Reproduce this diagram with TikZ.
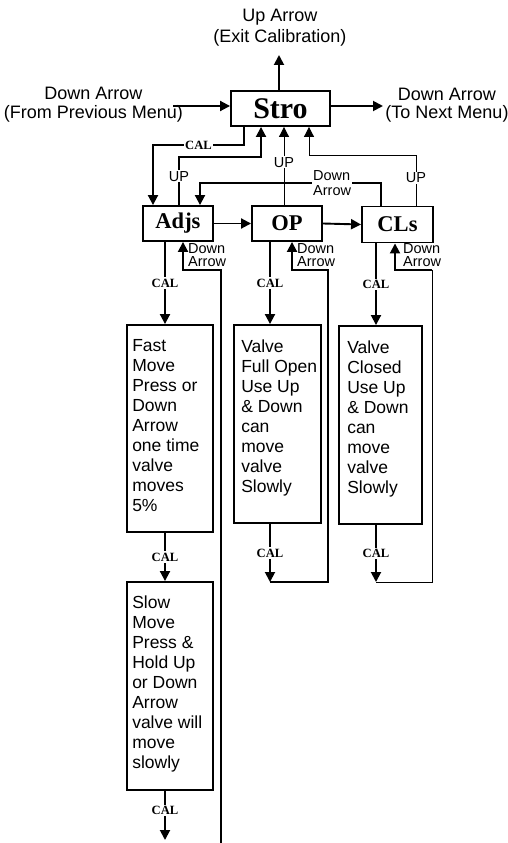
\documentclass[tikz,border=0pt]{standalone}
\usepackage{fontspec}
\setmainfont{Liberation Sans}
\newfontfamily\tnr{Liberation Serif}
\usepackage{tikz}
\usetikzlibrary{arrows.meta}
\tikzset{
  menu/.style={draw,line width=1.9pt,inner sep=0pt,font=\tnr\bfseries\fontsize{22.5}{24}\selectfont},
  txtbox/.style={draw,line width=1.9pt,inner sep=0pt},
  boxtext/.style={font=\fontsize{17.5}{20}\selectfont,align=left,inner sep=0pt,anchor=north west},
  cal/.style={font=\tnr\bfseries\fontsize{12.6}{13}\selectfont,fill=white,inner sep=1.5pt},
  keylbl/.style={font=\fontsize{14.5}{13.5}\selectfont,align=left,inner sep=0pt},
  uplbl/.style={font=\fontsize{14.5}{15}\selectfont,fill=white,inner sep=1pt},
  note/.style={font=\fontsize{18}{21}\selectfont,align=center,inner sep=0pt},
  flow/.style={line width=1.9pt},
  thinflow/.style={line width=1pt},
  arr/.style={flow,-{Triangle[length=10pt,width=10pt]}},
  thinarr/.style={thinflow,-{Triangle[length=10pt,width=10pt]}}
}

\begin{document}
\begin{tikzpicture}[x=1pt,y=-1pt]
  \useasboundingbox (0,0) rectangle (507,843);
  % menus
  \node[menu,minimum width=99pt,minimum height=35pt,font=\tnr\bfseries\fontsize{30}{32}\selectfont] (stro) at (280.5,108.5) {Stro};
  \node[menu,minimum width=70pt,minimum height=35pt] (adjs) at (178,223.5) {Adjs};
  \node[menu,minimum width=70pt,minimum height=35pt] (op) at (287,223.5) {OP};
  \node[menu,minimum width=71pt,minimum height=36pt] (cls) at (397.5,224.5) {CLs};
  % text boxes
  \node[txtbox,minimum width=86pt,minimum height=207pt] (fast) at (170,428.5) {};
  \node[txtbox,minimum width=86pt,minimum height=208pt] (slow) at (170,686) {};
  \node[txtbox,minimum width=87pt,minimum height=198pt] (opbox) at (277.5,424) {};
  \node[txtbox,minimum width=83pt,minimum height=198pt] (clsbox) at (380.5,425) {};
  \node[boxtext] (fasttxt) at ([xshift=6pt,yshift=-15.5pt]fast.north west)
    {Fast\\Move\\Press or\\Down\\Arrow\\one time\\valve\\moves\\5\%};
  \node[boxtext] (slowtxt) at ([xshift=6pt,yshift=-14.5pt]slow.north west)
    {Slow\\Move\\Press \&\\Hold Up\\or Down\\Arrow\\valve will\\move\\slowly};
  \node[boxtext] (optxt) at ([xshift=8pt,yshift=-15.5pt]opbox.north west)
    {Valve\\Full Open\\Use Up\\\& Down\\can\\move\\valve\\Slowly};
  \node[boxtext] (clstxt) at ([xshift=9pt,yshift=-15.5pt]clsbox.north west)
    {Valve\\Closed\\Use Up\\\& Down\\can\\move\\valve\\Slowly};
  % outer labels
  \node[note] (exit) at (280,28) {Up Arrow\\(Exit Calibration)};
  \node[note,font=\fontsize{18}{18.5}\selectfont] (prev) at (93.5,104.5) {Down Arrow\\(From Previous Menu)};
  \node[note,font=\fontsize{18}{18.5}\selectfont] (next) at (447,105) {Down Arrow\\(To Next Menu)};
  % bend points
  \coordinate (exitpt) at (279,55);
  \coordinate (prevpt) at (173,106);
  \coordinate (nextpt) at (383,106);
  \coordinate (calbend1) at (244,145);
  \coordinate (calbend2) at (153,145);
  \coordinate (upl1) at (179,157);
  \coordinate (upl2) at (261,157);
  \coordinate (upm) at (284,162);
  \coordinate (upr1) at (416,155);
  \coordinate (upr2) at (309,155);
  \coordinate (dn1) at (381,183);
  \coordinate (dn2) at (200,183);
  \coordinate (adjsret) at (221,843);
  \coordinate (adjsbend) at (221,270);
  \coordinate (adjsin) at (183,270);
  \coordinate (oploop) at (270,582);
  \coordinate (opret) at (328,582);
  \coordinate (opbend) at (328,270);
  \coordinate (opin) at (292,270);
  \coordinate (clsloop) at (376,582);
  \coordinate (clsret) at (432,582);
  \coordinate (clsbend) at (432,270);
  \coordinate (clsin) at (395,270);
  \coordinate (endpt) at (165,840);
  % around Stro
  \draw[arr] (stro.north -| exitpt) -- (exitpt);
  \draw[arr] (prevpt) -- (prevpt -| stro.west);
  \draw[arr] (nextpt -| stro.east) -- (nextpt);
  \draw[arr] (stro.south -| calbend1) |- node[cal,pos=0.75] (cal0) {CAL} (calbend2) -- (calbend2 |- adjs.north);
  \draw[arr] (adjs.north -| upl1) -- node[uplbl,pos=0.6] (upa) {UP} (upl1) -- (upl2) -- (upl2 |- stro.south);
  \draw[thinarr] (op.north -| upm) -- node[uplbl,pos=0.55] (upb) {UP} (upm |- stro.south);
  \draw[thinarr] (cls.north -| upr1) -- node[uplbl,pos=0.55] (upc) {UP} (upr1) -- (upr2) -- (upr2 |- stro.south);
  \draw[arr] (cls.north -| dn1) -- (dn1) -- node[keylbl,fill=white,inner sep=1pt,font=\fontsize{14.5}{15}\selectfont,pos=0.27] (dnlbl) {Down\\Arrow} (dn2) -- (dn2 |- adjs.north);
  % menu row
  \draw[arr] (adjs.east) -- (op.west);
  \draw[arr] (op.east) -- (cls.west);
  % down into the boxes
  \draw[arr] (adjs.south -| 165,0) -- node[cal] (cal1) {CAL} (fast.north -| 165,0);
  \draw[arr] (op.south -| oploop) -- node[cal] (cal2) {CAL} (opbox.north -| oploop);
  \draw[arr] (cls.south -| clsloop) -- node[cal] (cal3) {CAL} (clsbox.north -| clsloop);
  \draw[arr] (fast.south -| 165,0) -- node[cal] (cal4) {CAL} (slow.north -| 165,0);
  \draw[arr] (slow.south -| endpt) -- node[cal,pos=0.4] (cal5) {CAL} (endpt);
  \draw[arr] (opbox.south -| oploop) -- node[cal] (cal6) {CAL} (oploop);
  \draw[arr] (clsbox.south -| clsloop) -- node[cal] (cal7) {CAL} (clsloop);
  % return lines
  \draw[arr] (adjsret) -- (adjsbend) -- (adjsin) -- (adjsin |- adjs.south);
  \draw[arr] (oploop) -- (opret) -- (opbend) -- (opin) -- (opin |- op.south);
  \draw[thinflow] (clsloop) -- (clsret) -- (clsbend);
  \draw[arr] (clsbend) -- (clsin) -- (clsin |- cls.south);
  \node[keylbl,anchor=west] (adjsdn) at (188,255) {Down\\Arrow};
  \node[keylbl,anchor=west] (opdn) at (297,255) {Down\\Arrow};
  \node[keylbl,anchor=west] (clsdn) at (403,255) {Down\\Arrow};
\end{tikzpicture}
\end{document}
